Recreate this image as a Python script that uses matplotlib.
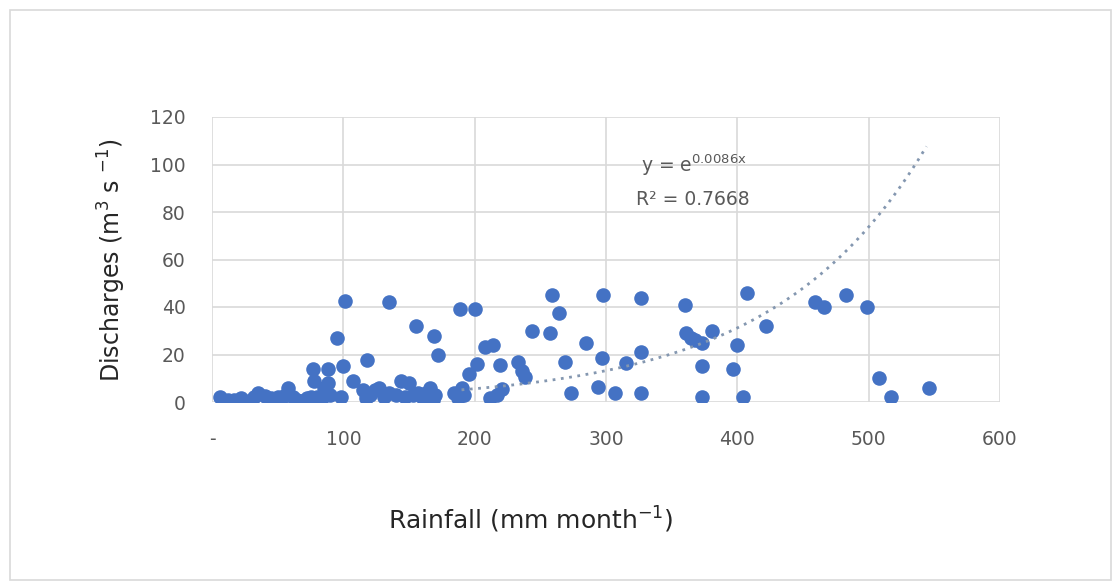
import numpy as np
import matplotlib
matplotlib.use("Agg")
import matplotlib.pyplot as plt
from matplotlib.patches import Rectangle

# Rainfall (mm/month) and discharges (m3/s)
rainfall = [6, 12, 17, 22, 28, 32, 35, 40, 45, 50, 55, 58, 62, 65, 68, 72, 75, 78,
            80, 83, 85, 88, 90, 98, 107, 115, 117, 120, 124, 127, 131, 135, 140,
            144, 147, 150, 153, 157, 160, 163, 166, 168, 170, 184, 187, 190, 192,
            212, 217, 221,
            77, 88, 100, 95, 101, 118, 135, 155, 169, 172, 189, 200, 196, 202,
            208, 214, 219, 233, 236, 238, 244, 257, 259, 264, 269, 273, 285, 297,
            298, 294, 307, 315, 327, 327, 327, 360, 361, 365, 368, 373, 373, 373,
            381, 397, 400, 404, 407, 422, 459, 466, 483, 499, 508, 517, 546]
discharge = [2, 1, 1, 1.5, 0.5, 2, 4, 2.5, 1.5, 2, 2.5, 6, 2, 1, 0.5, 1.5, 2, 9,
             2, 1, 6, 8, 3, 2, 9, 5, 1.5, 3, 5, 6, 2, 4, 3,
             9, 2, 8, 3, 4, 2, 4, 6, 1, 3, 4, 1.5, 6, 3,
             1.7, 3, 5.5,
             14, 14, 15, 27, 42.5, 17.5, 42, 32, 28, 20, 39, 39, 12, 16,
             23, 24, 15.5, 17, 13, 10.5, 30, 29, 45, 37.5, 17, 4, 25, 18.5,
             45, 6.5, 4, 16.5, 21, 44, 4, 41, 29, 27, 26, 25, 15, 2,
             30, 14, 24, 2, 46, 32, 42, 40, 45, 40, 10, 2, 6]

trend_k = 0.0086
trend_x_start, trend_x_end = 190, 544
x_ticks = [0, 100, 200, 300, 400, 500, 600]
x_tick_labels = ["-", "100", "200", "300", "400", "500", "600"]
y_ticks = [0, 20, 40, 60, 80, 100, 120]

W, H = 1113, 584
fig = plt.figure(figsize=(W / 100, H / 100), dpi=100)
fig.patch.set_facecolor("white")
# outer chart border
fig.patches.append(Rectangle((10 / W, 4 / H), 1 - 12 / W, 1 - 14 / H,
                             transform=fig.transFigure, fill=False,
                             edgecolor="#d9d9d9", linewidth=1.2))

ax = fig.add_axes([212 / W, 1 - 402 / H, (1000 - 212) / W, (402 - 117) / H])
ax.set_xlim(0, 600)
ax.set_ylim(0, 120)
ax.set_xticks(x_ticks)
ax.set_xticklabels(x_tick_labels)
ax.set_yticks(y_ticks)
ax.grid(True, color="#d9d9d9", linewidth=1.2)
ax.set_axisbelow(True)
for s in ax.spines.values():
    s.set_visible(False)
ax.tick_params(length=0, labelsize=13.5, colors="#595959")
ax.tick_params(axis="y", pad=19)
ax.tick_params(axis="x", pad=20)

ax.scatter(rainfall, discharge, s=110, color="#4472C4", zorder=3, linewidths=0)

xt = np.linspace(trend_x_start, trend_x_end, 200)
ax.plot(xt, np.exp(trend_k * xt), linestyle=(0, (1, 2.0)), color="#8497b0",
        linewidth=2, zorder=4)

ax.text(327, 97, r"y = e$^{\mathrm{0.0086x}}$", fontsize=13.5, color="#595959")
ax.text(323, 83, "R² = 0.7668", fontsize=13.5, color="#595959")

fig.text(112 / W, 1 - 260 / H, "Discharges (m$^3$ s $^{-1}$)", rotation=90,
         ha="center", va="center", fontsize=17, color="#262626")
fig.text(531 / W, 1 - 520 / H, "Rainfall (mm month$^{-1}$)",
         ha="center", va="center", fontsize=18, color="#262626")

fig.savefig("out.png", dpi=100, facecolor="white")
